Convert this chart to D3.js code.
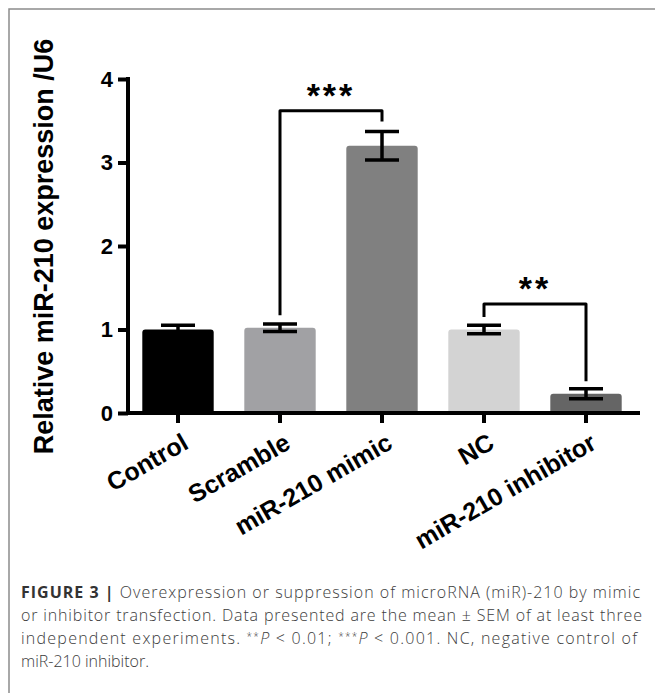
<!DOCTYPE html>
<html>
<head>
<meta charset="utf-8">
<script src="https://cdn.jsdelivr.net/npm/d3@7"></script>
<style>
  html, body { margin: 0; padding: 0; background: #fff; }
  svg { display: block; }
</style>
</head>
<body>
<svg id="chart"></svg>
<script>
// data
const categories = ["Control", "Scramble", "miR-210 mimic", "NC", "miR-210 inhibitor"];
const means = [1.0, 1.02, 3.2, 1.0, 0.23];
const sems = [0.05, 0.045, 0.17, 0.05, 0.06];
const barColors = ["#000000", "#a1a1a4", "#808080", "#d3d3d3", "#656565"];
const yTicks = [0, 1, 2, 3, 4];
const yTitle = "Relative miR-210 expression /U6";

// significance brackets: groups, bar height, leg ends, stars
const brackets = [
  {from: "Scramble", to: "miR-210 mimic", y: 3.62, legs: [1.17, 3.49], label: "***"},
  {from: "NC", to: "miR-210 inhibitor", y: 1.305, legs: [1.15, 0.38], label: "**"}
];

const captionLines = [
  [{t: "FIGURE 3 | ", b: true}, {t: "Overexpression or suppression of microRNA (miR)-210 by mimic"}],
  [{t: "or inhibitor transfection. Data presented are the mean \u00b1 SEM of at least three"}],
  [{t: "independent experiments. "}, {t: "**", sup: true}, {t: "P", i: true}, {t: " < 0.01; "},
   {t: "***", sup: true}, {t: "P", i: true}, {t: " < 0.001. NC, negative control of"}],
  [{t: "miR-210 inhibitor."}]
];

const width = 655;
const height = 693;

const svg = d3.select("#chart")
    .attr("width", width)
    .attr("height", height)
    .attr("viewBox", [0, 0, width, height]);

svg.append("rect").attr("width", width).attr("height", height).attr("fill", "#fff");

// frame (only top and left edges are inside the picture)
svg.append("path")
    .attr("d", `M9,${height} V9 H${width}`)
    .attr("fill", "none")
    .attr("stroke", "#8c8c8c")
    .attr("stroke-width", 1.5);

const x = d3.scaleBand()
    .domain(categories)
    .range([127, 637])
    .paddingInner(0.3)
    .paddingOuter(0.15);

const y = d3.scaleLinear()
    .domain([0, 4])
    .range([413, 79]);

const font = "'Liberation Sans', Arial, sans-serif";

// bars with slightly rounded top corners
const r = 3;
svg.append("g")
  .selectAll("path")
  .data(categories)
  .join("path")
    .attr("fill", (d, i) => barColors[i])
    .attr("d", (d, i) => {
      const x0 = x(d), x1 = x(d) + x.bandwidth();
      const top = y(means[i]), bottom = y(0);
      return `M${x0},${bottom} V${top + r} Q${x0},${top} ${x0 + r},${top} H${x1 - r} Q${x1},${top} ${x1},${top + r} V${bottom} Z`;
    });

// error bars (mean ± SEM)
const capW = 34;
svg.append("g")
    .attr("stroke", "#000")
    .attr("stroke-width", 3.5)
    .attr("fill", "none")
  .selectAll("path")
  .data(categories)
  .join("path")
    .attr("d", (d, i) => {
      const cx = x(d) + x.bandwidth() / 2;
      const hi = y(means[i] + sems[i]), lo = y(means[i] - sems[i]);
      return `M${cx},${hi} V${lo} M${cx - capW / 2},${hi} H${cx + capW / 2} M${cx - capW / 2},${lo} H${cx + capW / 2}`;
    });

// axes
const yAxis = svg.append("g")
    .attr("transform", "translate(128,0)")
    .call(d3.axisLeft(y).tickValues(yTicks).tickFormat(d3.format("d")).tickSize(10).tickPadding(5).tickSizeOuter(0));

const xAxis = svg.append("g")
    .attr("transform", `translate(0,${y(0)})`)
    .call(d3.axisBottom(x).tickSize(10).tickSizeOuter(0).tickFormat(""));

[yAxis, xAxis].forEach(g => {
  g.selectAll(".domain, .tick line").attr("stroke", "#000").attr("stroke-width", 4);
});
xAxis.select(".domain").attr("d", `M126,0 H640`);
yAxis.select(".domain").attr("d", `M0,${y(4) - 2} V${y(0) + 2}`);

yAxis.selectAll(".tick text")
    .attr("font-family", font)
    .attr("font-weight", "bold")
    .attr("font-size", 22)
    .attr("fill", "#000");

// rotated category labels
svg.append("g")
  .selectAll("text")
  .data(categories)
  .join("text")
    .attr("transform", d => `translate(${x(d) + x.bandwidth() / 2 + 3},432) rotate(-30)`)
    .attr("dy", "0.72em")
    .attr("text-anchor", "end")
    .attr("font-family", font)
    .attr("font-weight", "bold")
    .attr("font-size", 25)
    .text(d => d);

// y title
svg.append("text")
    .attr("transform", `translate(53,${(33 + 460) / 2}) rotate(-90)`)
    .attr("text-anchor", "middle")
    .attr("font-family", font)
    .attr("font-weight", "bold")
    .attr("font-size", 27)
    .text(yTitle);

// significance brackets
const cx = d => x(d) + x.bandwidth() / 2;
const br = svg.append("g").selectAll("g").data(brackets).join("g");
br.append("path")
    .attr("fill", "none")
    .attr("stroke", "#000")
    .attr("stroke-width", 3)
    .attr("stroke-linejoin", "round")
    .attr("d", d => `M${cx(d.from)},${y(d.legs[0])} V${y(d.y)} H${cx(d.to)} V${y(d.legs[1])}`);
br.append("text")
    .attr("x", d => (cx(d.from) + cx(d.to)) / 2)
    .attr("y", d => y(d.y) - 4)
    .attr("text-anchor", "middle")
    .attr("font-family", font)
    .attr("font-weight", "bold")
    .attr("font-size", 34)
    .attr("letter-spacing", 3)
    .text(d => d.label);

// caption
const capFont = "'Open Sans', Roboto, sans-serif";
const baselines = [598, 621, 644, 667];
captionLines.forEach((segs, li) => {
  const t = svg.append("text")
      .attr("x", 21)
      .attr("y", baselines[li])
      .attr("font-family", capFont)
      .attr("font-size", 16)
      .attr("font-weight", 300)
      .attr("fill", "#3c3c3c");
  segs.forEach(s => {
    const ts = t.append("tspan").text(s.t);
    if (s.b) ts.attr("font-weight", "bold").attr("fill", "#333");
    if (s.i) ts.attr("font-style", "italic");
    if (s.sup) ts.attr("font-size", 10).attr("baseline-shift", "4");
  });
  if (li < 3) t.attr("textLength", [619, 621, 616][li]).attr("lengthAdjust", "spacing");
});
</script>
</body>
</html>
